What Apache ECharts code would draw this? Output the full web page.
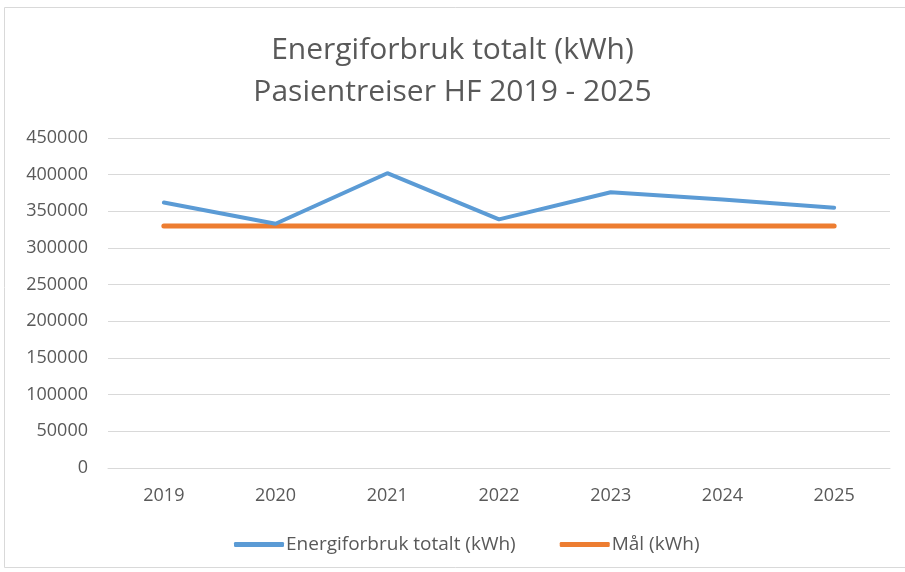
<!DOCTYPE html>
<html>
<head>
<meta charset="utf-8">
<script src="https://cdn.jsdelivr.net/npm/echarts@6/dist/echarts.min.js"></script>
<style>
  html, body { margin: 0; padding: 0; background: #fff; }
  #chart { width: 905px; height: 572px; }
</style>
</head>
<body>
<div id="chart"></div>
<script>
const years = ['2019', '2020', '2021', '2022', '2023', '2024', '2025']
const energiforbruk = [362000, 333000, 402000, 339000, 376000, 366000, 355000]
const maal = [330000, 330000, 330000, 330000, 330000, 330000, 330000]
const seriesNames = ['Energiforbruk totalt (kWh)', 'Mål (kWh)']
const titleLines = ['Energiforbruk totalt (kWh)', 'Pasientreiser HF 2019 - 2025']

const chart = echarts.init(document.getElementById('chart'))
const font = '"Open Sans", "Noto Sans", sans-serif'

chart.setOption({
  animation: false,
  textStyle: { fontFamily: font },
  graphic: [{
    type: 'rect',
    shape: { x: 4.5, y: 7.5, width: 920, height: 560 },
    style: { fill: 'none', stroke: '#d9d9d9', lineWidth: 1 },
    silent: true
  }],
  title: {
    text: titleLines.join('\n'),
    left: 'center',
    top: 24,
    textStyle: {
      fontFamily: font,
      fontWeight: 'normal',
      fontSize: 30,
      lineHeight: 42,
      color: '#595959'
    }
  },
  legend: {
    data: seriesNames,
    bottom: 13,
    left: 229,
    itemWidth: 50,
    itemHeight: 5,
    itemGap: 44,
    icon: 'roundRect',
    textStyle: { fontFamily: font, fontSize: 19, color: '#595959', padding: [0, 0, 0, -3] }
  },
  grid: {
    left: 108,
    right: 15,
    top: 138,
    bottom: 104
  },
  xAxis: {
    type: 'category',
    data: years,
    boundaryGap: true,
    axisLine: { lineStyle: { color: '#d9d9d9', width: 1 } },
    axisTick: { show: false },
    axisLabel: { color: '#595959', fontSize: 18, margin: 19, fontFamily: font }
  },
  yAxis: {
    type: 'value',
    min: 0,
    max: 450000,
    interval: 50000,
    axisLine: { show: false },
    axisTick: { show: false },
    splitLine: { lineStyle: { color: '#d9d9d9', width: 1 } },
    axisLabel: {
      color: '#595959',
      fontSize: 18,
      margin: 20,
      fontFamily: font,
      formatter: v => String(v)
    }
  },
  series: [
    {
      name: seriesNames[0],
      type: 'line',
      data: energiforbruk,
      showSymbol: false,
      symbol: 'none',
      color: '#5B9BD5',
      lineStyle: { width: 4, color: '#5B9BD5', cap: 'round' },
      z: 3
    },
    {
      name: seriesNames[1],
      type: 'line',
      data: maal,
      showSymbol: false,
      symbol: 'none',
      color: '#ED7D31',
      lineStyle: { width: 5, color: '#ED7D31', cap: 'round' },
      z: 2
    }
  ]
})
</script>
</body>
</html>
